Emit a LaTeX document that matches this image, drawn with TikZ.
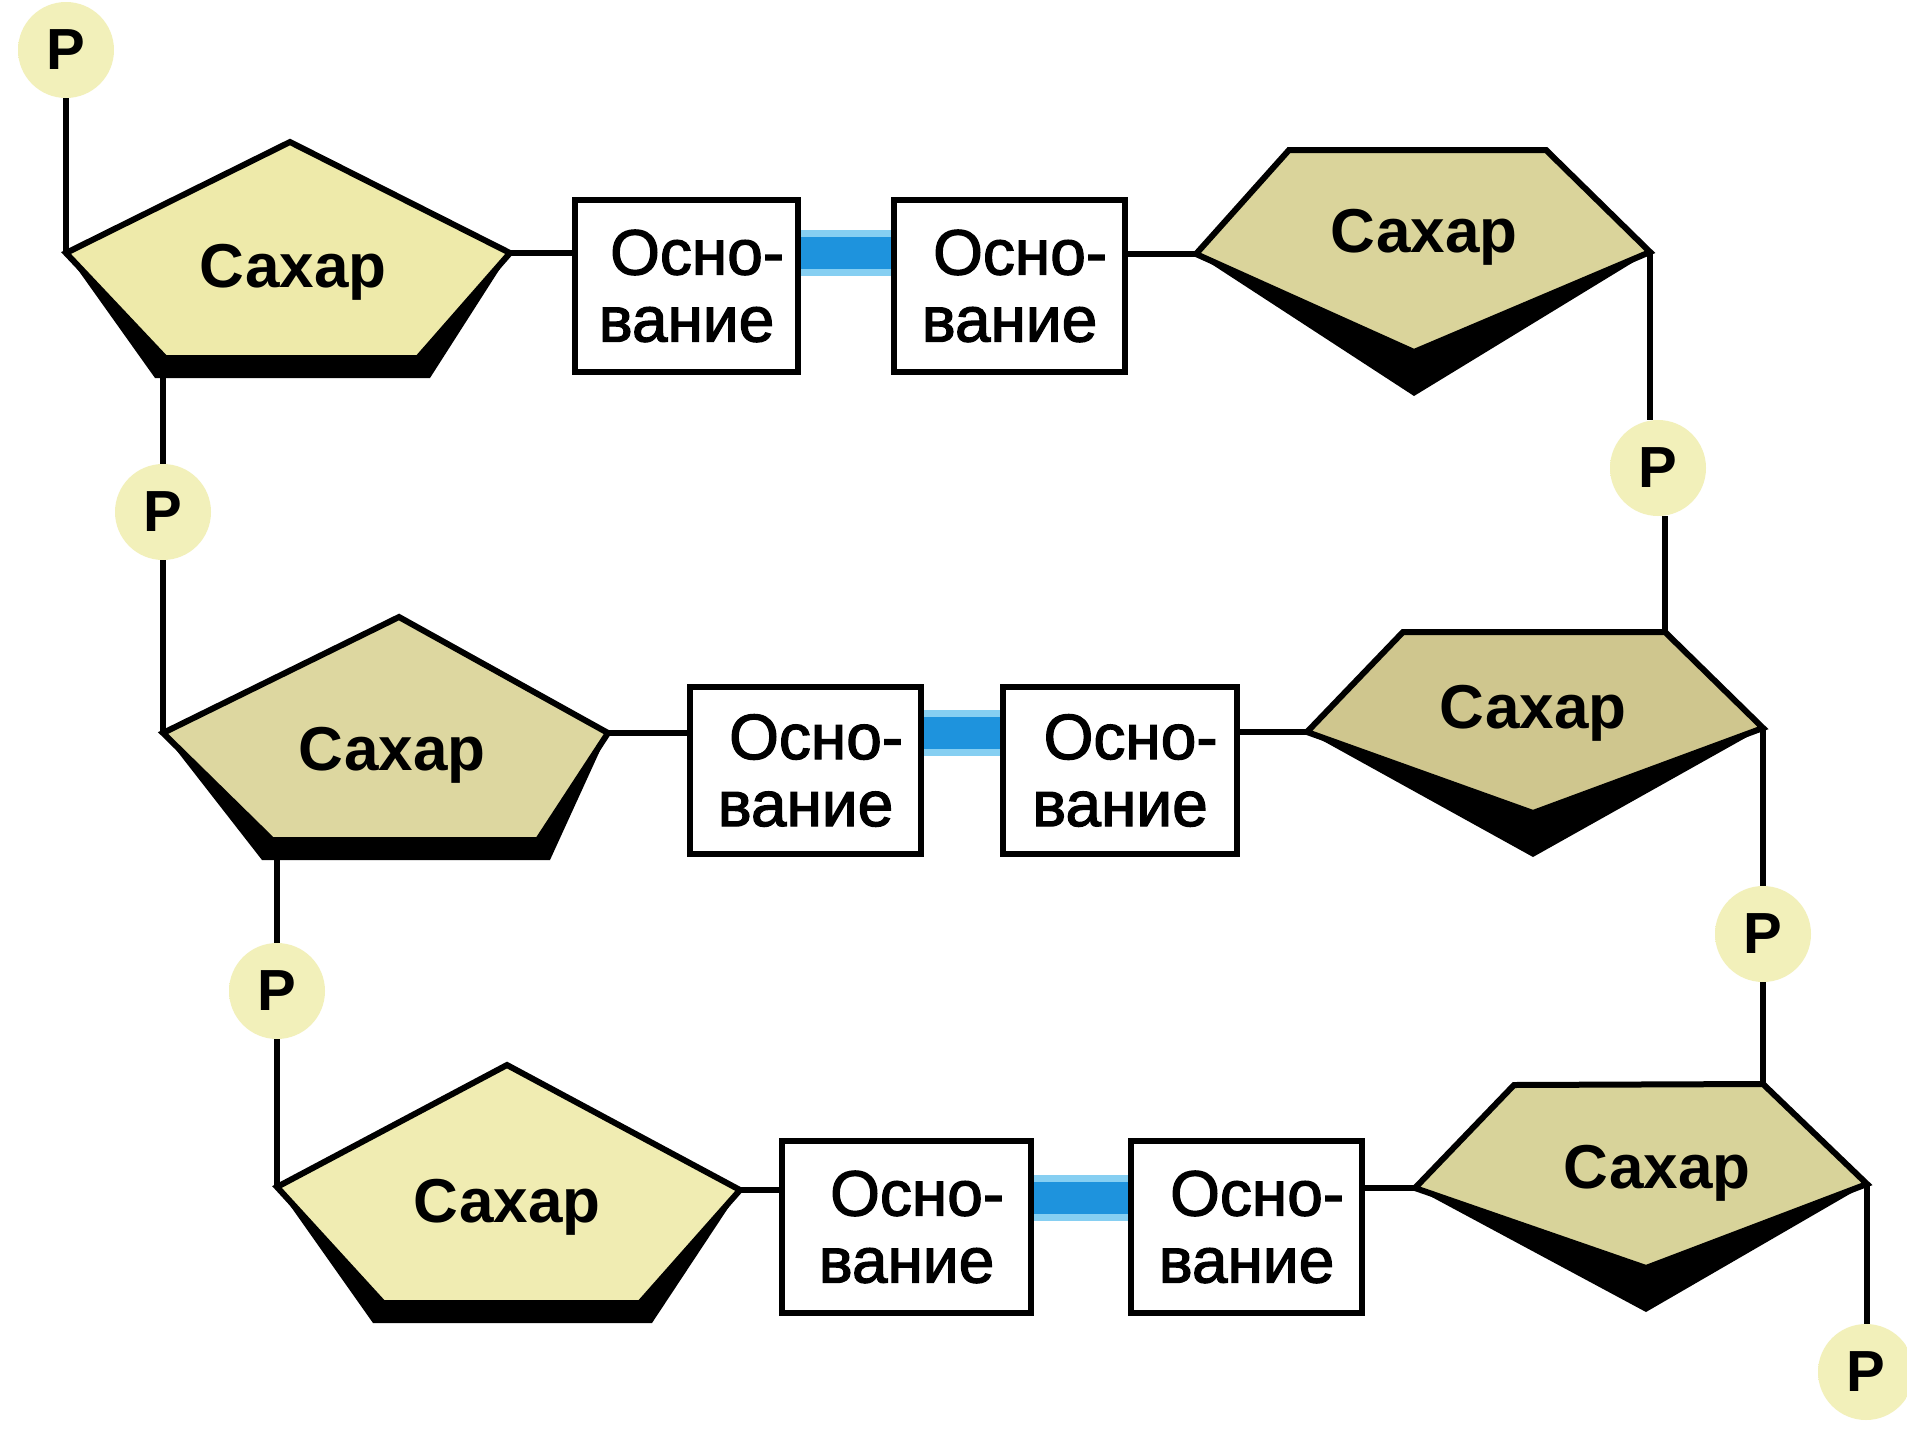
\documentclass[tikz,border=0pt]{standalone}
\usepackage{fontspec}
\setmainfont{Liberation Sans}
\newfontfamily\basefont[FakeBold=2]{Liberation Sans}
\usetikzlibrary{calc}
\pgfdeclarelayer{background}
\pgfsetlayers{background,main}

\definecolor{pcore}{HTML}{F2F0BA}
\definecolor{pedge}{HTML}{F8F7DC}
\definecolor{bondblue}{HTML}{1E93DD}
\definecolor{bondlight}{HTML}{86CFF2}
\definecolor{sugA}{HTML}{EEEAAA}
\definecolor{sugB}{HTML}{DAD49B}
\definecolor{sugC}{HTML}{CFC68E}
\definecolor{sugD}{HTML}{DDD7A0}
\definecolor{sugE}{HTML}{D8D39A}
\definecolor{sugF}{HTML}{F0ECB2}

% soft yellow halo behind the phosphate letters
\pgfdeclareradialshading{phalo}{\pgfpoint{0bp}{0bp}}{color(0bp)=(pcore); color(30bp)=(pcore); color(42bp)=(pedge); color(50bp)=(white)}

\begin{document}
\begin{tikzpicture}[x=1pt,y=-1pt,
  conn/.style={line width=5.5pt, draw=black},
  sugar/.style={draw=black, line width=6pt, line join=miter},
  sugartext/.style={anchor=base, inner sep=0pt, font=\fontsize{62pt}{62pt}\selectfont\bfseries},
  basebox/.style={draw=black, line width=5.5pt, fill=white, align=center, inner sep=0pt,
    font=\basefont\fontsize{64pt}{67pt}\selectfont},
  pnode/.style={circle, minimum size=96pt, inner sep=0pt, shading=phalo,
    font=\fontsize{58pt}{58pt}\selectfont\bfseries},
  bondglow/.style={line width=46pt, draw=bondlight},
  bondcore/.style={line width=32pt, draw=bondblue},
]
\useasboundingbox (0,0) rectangle (1907,1440);
\begin{pgfonlayer}{background}
  \fill[white] (0,0) rectangle (1907,1440);
\end{pgfonlayer}

% ---------- sugar ring corners ----------
% A: upper left (apex up)
\coordinate (A-L) at (66,253);   \coordinate (A-T) at (290,142);
\coordinate (A-R) at (510,253);  \coordinate (A-BR) at (418,358);
\coordinate (A-BL) at (165,358); \coordinate (A-S) at (163,372);
% B: upper right (apex down)
\coordinate (B-L) at (1196,254);  \coordinate (B-TL) at (1289,150);
\coordinate (B-TR) at (1546,150); \coordinate (B-R) at (1650,252);
\coordinate (B-B) at (1414,352);
% D: middle left (apex up)
\coordinate (D-L) at (163,733);  \coordinate (D-T) at (399,617);
\coordinate (D-R) at (608,733);  \coordinate (D-BR) at (538,840);
\coordinate (D-BL) at (272,840); \coordinate (D-S) at (277,852);
% C: middle right (apex down)
\coordinate (C-L) at (1307,732);  \coordinate (C-TL) at (1403,632);
\coordinate (C-TR) at (1665,632); \coordinate (C-R) at (1763,728);
\coordinate (C-B) at (1533,813);
% F: lower left (apex up)
\coordinate (F-L) at (277,1187);  \coordinate (F-T) at (507,1065);
\coordinate (F-R) at (740,1190);  \coordinate (F-BR) at (640,1303);
\coordinate (F-BL) at (383,1303);
% E: lower right (apex down)
\coordinate (E-L) at (1415,1188);  \coordinate (E-TL) at (1514,1085);
\coordinate (E-TR) at (1763,1084); \coordinate (E-R) at (1867,1184);
\coordinate (E-B) at (1646,1268);

% ---------- heavy dark rims under the rings ----------
\foreach \s in {A,D,F}{
  \fill[black] (\s-L) -- ($(\s-BL)+(-10,20)$) -- ($(\s-BR)+(12,20)$) -- (\s-R) -- cycle;
}
\foreach \s in {B,C,E}{
  \fill[black] (\s-L) -- ($(\s-B)+(0,44)$) -- (\s-R) -- cycle;
}

% ---------- sugar rings ----------
\draw[sugar, fill=sugA] (A-L) -- (A-T) -- (A-R) -- (A-BR) -- (A-BL) -- cycle;
\draw[sugar, fill=sugD] (D-L) -- (D-T) -- (D-R) -- (D-BR) -- (D-BL) -- cycle;
\draw[sugar, fill=sugF] (F-L) -- (F-T) -- (F-R) -- (F-BR) -- (F-BL) -- cycle;
\draw[sugar, fill=sugB] (B-L) -- (B-TL) -- (B-TR) -- (B-R) -- (B-B) -- cycle;
\draw[sugar, fill=sugC] (C-L) -- (C-TL) -- (C-TR) -- (C-R) -- (C-B) -- cycle;
\draw[sugar, fill=sugE] (E-L) -- (E-TL) -- (E-TR) -- (E-R) -- (E-B) -- cycle;

\node[sugartext] (sA) at (293,287)  {Сахар};
\node[sugartext] (sB) at (1424,252) {Сахар};
\node[sugartext] (sD) at (392,770)  {Сахар};
\node[sugartext] (sC) at (1533,728) {Сахар};
\node[sugartext] (sF) at (507,1222) {Сахар};
\node[sugartext] (sE) at (1657,1188) {Сахар};

% ---------- bases ----------
\node[basebox, minimum width=223pt, minimum height=172pt] (b1) at (686.5,286)  {Осно\rlap{-}\\вание};
\node[basebox, minimum width=231pt, minimum height=172pt] (b2) at (1009.5,286) {Осно\rlap{-}\\вание};
\node[basebox, minimum width=231pt, minimum height=167pt] (b3) at (805.5,770.5) {Осно\rlap{-}\\вание};
\node[basebox, minimum width=234pt, minimum height=167pt] (b4) at (1120,770.5)  {Осно\rlap{-}\\вание};
\node[basebox, minimum width=249pt, minimum height=172pt] (b5) at (906.5,1227)  {Осно\rlap{-}\\вание};
\node[basebox, minimum width=231pt, minimum height=172pt] (b6) at (1246.5,1227) {Осно\rlap{-}\\вание};

% ---------- hydrogen bonds between paired bases ----------
\begin{pgfonlayer}{background}
  \draw[bondglow] (b1.east |- A-R) -- (b2.west |- A-R);
  \draw[bondcore] (b1.east |- A-R) -- (b2.west |- A-R);
  \draw[bondglow] (b3.east |- D-R) -- (b4.west |- D-R);
  \draw[bondcore] (b3.east |- D-R) -- (b4.west |- D-R);
  \draw[bondglow] (b5.east |- 0,1198) -- (b6.west |- 0,1198);
  \draw[bondcore] (b5.east |- 0,1198) -- (b6.west |- 0,1198);
\end{pgfonlayer}

% ---------- phosphates ----------
\node[pnode] (P0) at (66,50)    {P};
\node[pnode] (P1) at (1658,468) {P};
\node[pnode] (P2) at (163,512)  {P};
\node[pnode] (P3) at (1763,934) {P};
\node[pnode] (P4) at (277,991)  {P};
\node[pnode] (P5) at (1866,1372) {P};

% ---------- backbone and base links ----------
\draw[conn] (P0) -- (A-L);
\draw[conn] (A-R) -- (A-R -| b1.west);
\draw[conn] (B-L -| b2.east) -- (B-L);
\draw[conn] (B-R) -- (B-R |- P1.north);
\draw[conn] (C-TR |- P1.south) -- (C-TR);
\draw[conn] (A-S) -- (P2);
\draw[conn] (P2) -- (D-L);
\draw[conn] (D-R) -- (D-R -| b3.west);
\draw[conn] (C-L -| b4.east) -- (C-L);
\draw[conn] (C-R) -- (P3);
\draw[conn] (P3) -- (E-TR);
\draw[conn] (D-S) -- (P4);
\draw[conn] (P4) -- (F-L);
\draw[conn] (F-R) -- (F-R -| b5.west);
\draw[conn] (E-L -| b6.east) -- (E-L);
\draw[conn] (E-R) -- (E-R |- P5.north);
\end{tikzpicture}
\end{document}
